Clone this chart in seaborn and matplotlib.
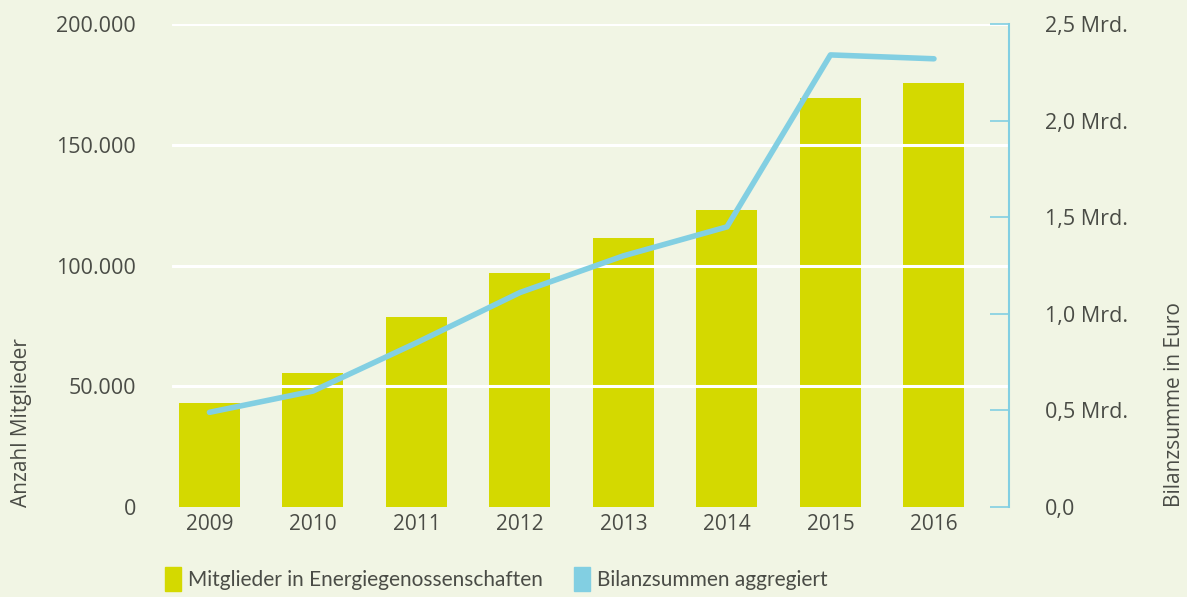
import numpy as np
import pandas as pd
import matplotlib
matplotlib.use("Agg")
import matplotlib.pyplot as plt
import seaborn as sns
from matplotlib.patches import Patch
from matplotlib.ticker import FuncFormatter

years = ["2009", "2010", "2011", "2012", "2013", "2014", "2015", "2016"]
mitglieder = [43000, 55500, 78700, 97000, 111500, 123000, 169500, 175500]
bilanz_mrd = [0.49, 0.60, 0.85, 1.11, 1.30, 1.45, 2.34, 2.32]

left_ticks = [0, 50000, 100000, 150000, 200000]
right_ticks = [0.0, 0.5, 1.0, 1.5, 2.0, 2.5]
right_labels = ["0,0", "0,5 Mrd.", "1,0 Mrd.", "1,5 Mrd.", "2,0 Mrd.", "2,5 Mrd."]

bg = "#f1f5e4"
bar_color = "#d4d900"
line_color = "#82cfe2"
text_color = "#4a4c46"

df = pd.DataFrame({"Jahr": years, "Mitglieder": mitglieder, "Bilanz": bilanz_mrd})

sns.set_style("white")
plt.rcParams["font.family"] = ["Open Sans", "DejaVu Sans"]
plt.rcParams["text.color"] = text_color
plt.rcParams["axes.labelcolor"] = text_color
plt.rcParams["xtick.color"] = text_color
plt.rcParams["ytick.color"] = text_color

fig = plt.figure(figsize=(11.87, 5.97), dpi=100, facecolor=bg)
ax = fig.add_axes([172 / 1187, 1 - 507 / 597, (1009 - 172) / 1187, (507 - 24) / 597])
ax.set_facecolor(bg)

sns.barplot(data=df, x="Jahr", y="Mitglieder", color=bar_color, width=0.59,
            saturation=1, linewidth=0, ax=ax, zorder=1)
for t in left_ticks[1:]:
    ax.axhline(t, color="white", lw=2.2, zorder=2)

ax.set_ylim(0, 200000)
ax.set_xlim(-0.362, 7.725)
ax.set_yticks(left_ticks)
ax.yaxis.set_major_formatter(FuncFormatter(lambda v, p: f"{int(v):,}".replace(",", ".")))
ax.tick_params(axis="y", length=0, pad=26, labelsize=15.5)
ax.tick_params(axis="x", length=0, pad=5, labelsize=15)
ax.set_xlabel("")
ax.set_ylabel("Anzahl Mitglieder", fontsize=15, loc="bottom", labelpad=17)
for s in ax.spines.values():
    s.set_visible(False)

ax2 = ax.twinx()
sns.lineplot(data=df, x="Jahr", y="Bilanz", color=line_color, lw=4, ax=ax2,
             solid_capstyle="round")
ax2.set_ylim(0, 2.5)
ax2.set_yticks(right_ticks)
ax2.set_yticklabels(right_labels)
ax2.tick_params(axis="y", direction="in", length=14, width=1.2, color=line_color,
                pad=26, labelsize=15.5)
ax2.set_ylabel("Bilanzsumme in Euro", fontsize=15, loc="bottom", labelpad=26)
for name, s in ax2.spines.items():
    s.set_visible(name == "right")
ax2.spines["right"].set_color(line_color)
ax2.spines["right"].set_linewidth(1.5)

handles = [Patch(color=bar_color, label="Mitglieder in Energiegenossenschaften"),
           Patch(color=line_color, label="Bilanzsummen aggregiert")]
fig.legend(handles=handles, loc="lower left", bbox_to_anchor=(146 / 1187, -0.022),
           ncol=2, frameon=False, handlelength=0.8, handleheight=1.4,
           handletextpad=0.3, columnspacing=1.5,
           prop={"family": ["Lato", "Open Sans"], "size": 15})

fig.savefig("out.png", dpi=100, facecolor=bg)
